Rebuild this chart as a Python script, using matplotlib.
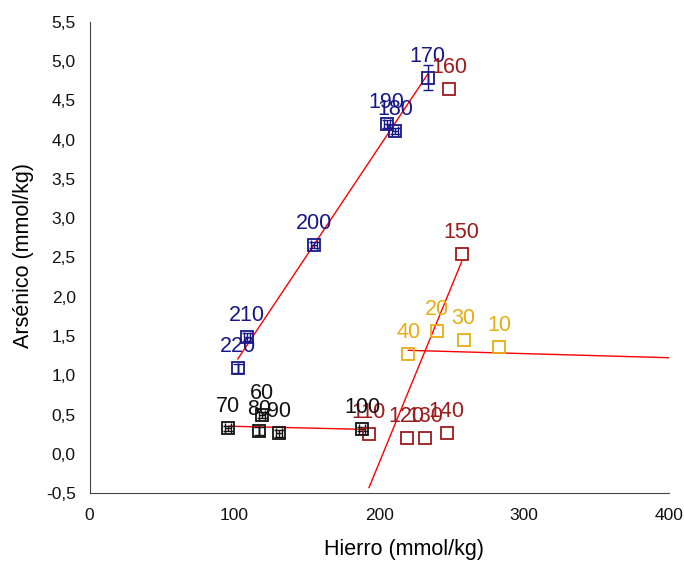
import numpy as np
import matplotlib
matplotlib.use('Agg')
import matplotlib.pyplot as plt

plt.rcParams['font.family'] = ['Liberation Sans', 'DejaVu Sans']

# Serie azul
azul_fe = [233.4, 205.1, 210.8, 154.9, 108.5, 102.3]
azul_as = [4.79, 4.20, 4.115, 2.66, 1.49, 1.088]
azul_err = [0.16, 0.05, 0.04, 0.04, 0.05, 0.06]
azul_lbl = ['170', '190', '180', '200', '210', '220']

# Serie roja
rojo_fe = [248.1, 256.9, 192.9, 218.9, 231.8, 246.5]
rojo_as = [4.64, 2.55, 0.248, 0.205, 0.205, 0.26]
rojo_lbl = ['160', '150', '110', '120', '130', '140']

# Serie amarilla
amar_fe = [282.8, 239.6, 258.2, 220.0]
amar_as = [1.356, 1.57, 1.445, 1.27]
amar_lbl = ['10', '20', '30', '40']
# tendencia amarilla (inicio y final)
amar_tend_fe = [220.0, 400.0]
amar_tend_as = [1.318, 1.224]

# Serie negra
negro_fe = [118.8, 95.8, 117.0, 131.0, 188.3]
negro_as = [0.494, 0.324, 0.294, 0.26, 0.315]
negro_err = [0.04, 0.03, 0.05, 0.04, 0.03]
negro_lbl = ['60', '70', '80', '90', '100']

c_azul = '#16188a'
c_rojo = '#9e1b1b'
c_amar = '#e6ae14'
c_negro = '#111111'

fig = plt.figure(figsize=(6.84, 5.61), dpi=100)
ax = fig.add_axes([0.131, 0.121, 0.847, 0.840])


def serie(x, y, lbls, color, yerr=None, xerr=None):
    if yerr is not None:
        ax.errorbar(x, y, yerr=yerr, xerr=xerr, fmt='none', ecolor=color,
                    elinewidth=1.0, capsize=3.5, capthick=1.0, zorder=3)
    ax.plot(x, y, ls='none', marker='s', ms=8.5, mfc='none', mec=color,
            mew=1.3, zorder=4)
    for xi, yi, t in zip(x, y, lbls):
        ax.annotate(t, (xi, yi), xytext=(0, 15.5), textcoords='offset points',
                    ha='center', va='center', fontsize=15.5, color=color,
                    zorder=5)


def tendencia(x, y):
    z = np.polyfit(x, y, 1)
    p = np.poly1d(z)
    xs = np.array([min(x), max(x)])
    ax.plot(xs, p(xs), color='red', lw=1.0, zorder=2)


tendencia(azul_fe, azul_as)
tendencia(rojo_fe, rojo_as)
tendencia(negro_fe, negro_as)
ax.plot(amar_tend_fe, amar_tend_as, color='red', lw=1.0, zorder=2)

serie(azul_fe, azul_as, azul_lbl, c_azul, yerr=azul_err, xerr=[0, 2, 2, 2, 2, 0])
serie(rojo_fe, rojo_as, rojo_lbl, c_rojo)
serie(amar_fe, amar_as, amar_lbl, c_amar)
serie(negro_fe, negro_as, negro_lbl, c_negro, yerr=negro_err, xerr=[2, 2, 0, 2, 2])

ax.set_xlim(0, 400)
ax.set_ylim(-0.5, 5.5)
ax.set_xticks([0, 100, 200, 300, 400])
ax.set_yticks(np.arange(-0.5, 5.51, 0.5))
ax.set_yticklabels([('%.1f' % v).replace('.', ',') for v in np.arange(-0.5, 5.51, 0.5)])
ax.tick_params(axis='both', length=0, labelsize=12.5, colors='#111111')
ax.tick_params(axis='y', pad=10)
ax.tick_params(axis='x', pad=11)
for s in ['top', 'right']:
    ax.spines[s].set_visible(False)
ax.spines['left'].set_color('#444444')
ax.spines['bottom'].set_color('#444444')

fig.text(404 / 684, 1 - 549 / 561, 'Hierro (mmol/kg)', ha='center', va='center',
         fontsize=15.5)
fig.text(24 / 684, 1 - 255 / 561, 'Arsénico (mmol/kg)', ha='center', va='center',
         fontsize=15.5, rotation=90)

fig.savefig('out.png', dpi=100)
